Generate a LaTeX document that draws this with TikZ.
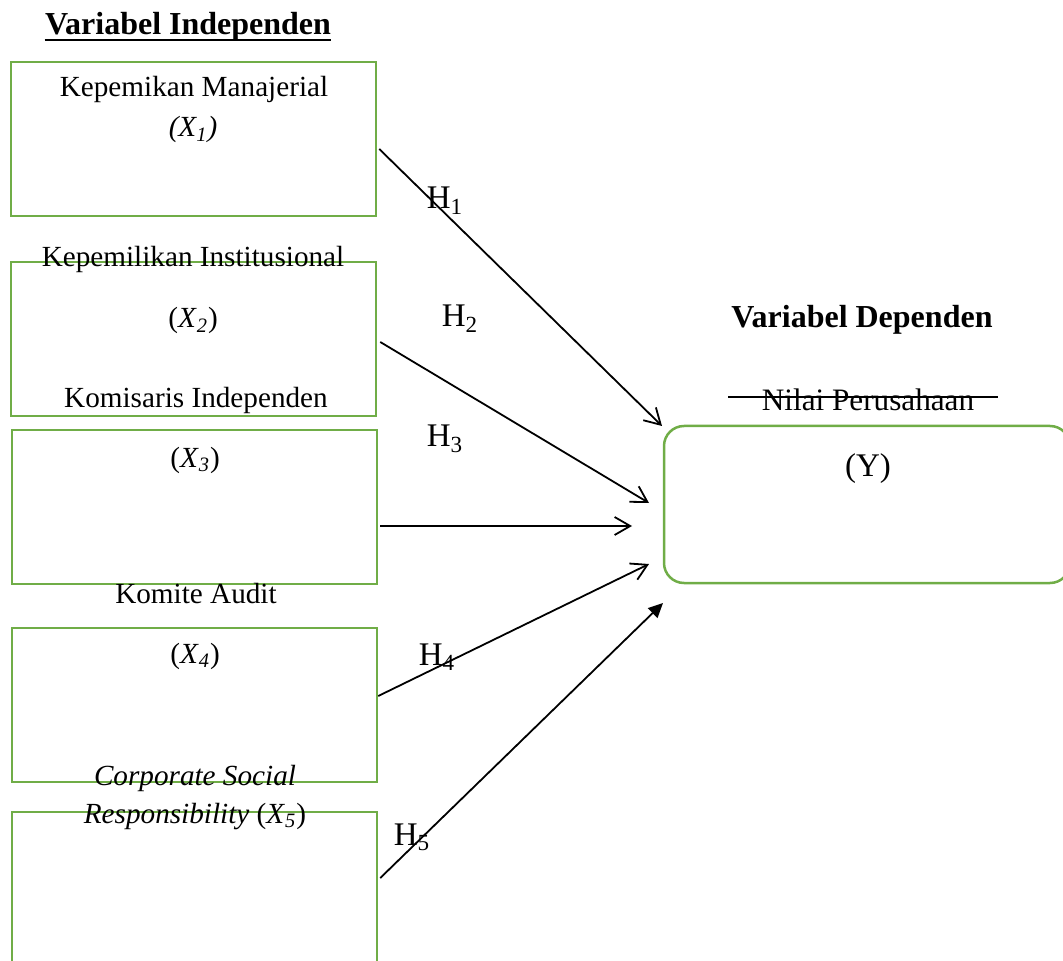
\documentclass[tikz,border=0pt]{standalone}
\usepackage{fontspec}
\setmainfont{Liberation Serif}
\usepackage{xcolor}
\usetikzlibrary{arrows.meta,positioning,calc}
\definecolor{BoxBorder}{HTML}{70AD47}
\tikzstyle{VariableBox} =[draw=BoxBorder,line width=1.25pt,rectangle,minimum width=182.5pt,minimum height=77pt,inner sep=0pt]
\tikzstyle{DependentBox} =[draw=BoxBorder,line width=1.25pt,rounded corners=10pt,minimum width=203pt,minimum height=78.5pt,inner sep=0pt]
\tikzstyle{BoxText} =[font=\fontsize{14.6}{17}\selectfont,inner sep=0pt,anchor=base]
\tikzstyle{HeadText} =[font=\fontsize{16}{19}\selectfont\bfseries,inner sep=0pt,anchor=base]
\tikzstyle{HypText} =[font=\fontsize{16.5}{19}\selectfont,inner sep=0pt,anchor=base]
\tikzstyle{Hypothesis} =[draw,line width=0.9pt,-{Straight Barb[angle=60:9pt]}]
\tikzstyle{HypothesisFilled} =[draw,line width=0.9pt,-{Triangle[angle=50:8pt]}]
\newcommand{\varx}[1]{\textit{X}\textsubscript{\textit{#1}}}
\begin{document}
\begin{tikzpicture}[x=0.5pt,y=-0.5pt]
\useasboundingbox (0,0) rectangle (1063,961);
% independent variables
\node[HeadText](TitleIndependent) at (188,35){Variabel Independen};
\draw[line width=0.85pt] ([yshift=-2.5pt]TitleIndependent.base west) -- ([yshift=-2.5pt]TitleIndependent.base east);
\node[VariableBox](X1) at (193.5,139){};
\node[VariableBox](X2) at (193.5,339){};
\node[VariableBox](X3) at (194.5,507){};
\node[VariableBox](X4) at (194.5,705){};
\node[VariableBox](X5) at (194.5,889){};
\node[BoxText](X1Name) at (194,97){Kepemikan Manajerial};
\node[BoxText](X1Code) at (193,137){\textit{(X\textsubscript{1})}};
\node[BoxText](X2Name) at (193,267){Kepemilikan Institusional};
\node[BoxText](X2Code) at (193,328){(\varx{2})};
\node[BoxText](X3Name) at (196,408){Komisaris Independen};
\node[BoxText](X3Code) at (195,467){(\varx{3})};
\node[BoxText](X4Name) at (196,603){Komite Audit};
\node[BoxText](X4Code) at (195,663){(\varx{4})};
\node[BoxText](X5Name) at (195,785){\textit{Corporate Social}};
\node[BoxText](X5Code) at (195,823){\textit{Responsibility} (\varx{5})};
% dependent variable
\node[HeadText](TitleDependent) at (862,328){Variabel Dependen};
\node[DependentBox](Y) at (867,504.5){};
\node[BoxText,font=\fontsize{15.6}{18}\selectfont](YName) at (868,411){Nilai Perusahaan};
\draw[line width=0.75pt] (728,397) -- (998,397);
\node[HypText](YCode) at (868,477){(Y)};
% arrow tips
\coordinate (T1) at (662,426);
\coordinate (T2) at (649,503);
\coordinate (T3) at (632,526);
\coordinate (T4) at (649,564);
\coordinate (T5) at (663,603);
\draw[Hypothesis] ([xshift=1pt,yshift=-5pt]X1.east) -- (T1);
\draw[Hypothesis] ([xshift=1.5pt,yshift=-1.5pt]X2.east) -- (T2);
\draw[Hypothesis] ([xshift=1pt,yshift=-9.5pt]X3.east) -- (T3);
\draw[Hypothesis] ([yshift=4.5pt]X4.east) -- (T4);
\draw[HypothesisFilled] ([xshift=1pt,yshift=5.5pt]X5.east) -- (T5);
\node[HypText](H1) at (445,209){H\textsubscript{1}};
\node[HypText](H2) at (460,327){H\textsubscript{2}};
\node[HypText](H3) at (445,447){H\textsubscript{3}};
\node[HypText](H4) at (437,665){H\textsubscript{4}};
\node[HypText](H5) at (412,845){H\textsubscript{5}};
\end{tikzpicture}
\end{document}
